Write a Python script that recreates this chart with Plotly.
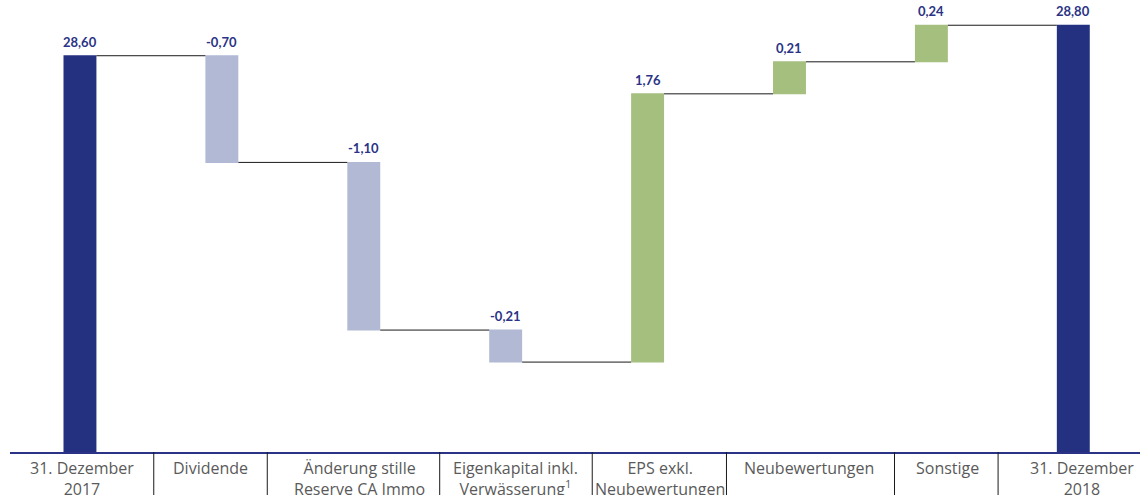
import plotly.graph_objects as go

categories = [
    "31. Dezember 2017",
    "Dividende",
    "Änderung stille Reserve CA Immo",
    "Eigenkapital inkl. Verwässerung",
    "EPS exkl. Neubewertungen",
    "Neubewertungen",
    "Sonstige",
    "31. Dezember 2018",
]
tick_labels = [
    "31. Dezember<br>2017",
    "Dividende",
    "Änderung stille<br>Reserve CA Immo",
    "Eigenkapital inkl.<br>Verwässerung<sup>1</sup>",
    "EPS exkl.<br>Neubewertungen",
    "Neubewertungen",
    "Sonstige",
    "31. Dezember<br>2018",
]
values = [28.60, -0.70, -1.10, -0.21, 1.76, 0.21, 0.24, 28.80]
measures = ["absolute", "relative", "relative", "relative", "relative", "relative", "relative", "total"]
separator_positions = [0.52, 1.32, 2.535, 3.61, 4.556, 5.74, 6.47]
label_positions = [0.014, 0.923, 1.97, 3.07, 4.09, 5.14, 6.11, 7.06]

# label positions derived from data (top of each bar)
tops = []
level = 0.0
for v, m in zip(values, measures):
    if m == "absolute":
        level = v
        tops.append(v)
    elif m == "total":
        tops.append(level)
    else:
        start = level
        level = level + v
        tops.append(max(start, level))
labels = [f"{v:.2f}".replace(".", ",") for v in values]

NAVY = "#233180"
fig = go.Figure()
fig.add_trace(go.Waterfall(
    x=categories,
    y=values,
    measure=measures,
    base=0,
    totals=dict(marker=dict(color=NAVY)),
    decreasing=dict(marker=dict(color="#b1b9d4")),
    increasing=dict(marker=dict(color="#a5bf7e")),
    connector=dict(line=dict(color="#1a1a1a", width=1), mode="between"),
    textinfo="none",
    hoverinfo="skip",
))

annotations = []
for c, t, lab in zip(categories, tops, labels):
    annotations.append(dict(
        x=c, y=t, xref="x", yref="y", text=lab, showarrow=False,
        yanchor="bottom", xanchor="center", yshift=4,
        font=dict(family="Lato", size=13, color="#2a3385", weight="bold"),
    ))
for p, lab in zip(label_positions, tick_labels):
    annotations.append(dict(
        x=p, y=0, xref="x", yref="paper", text=lab, showarrow=False,
        yanchor="top", xanchor="center", yshift=-3,
        font=dict(family="Open Sans", size=16, color="#5a5a5a"),
    ))

shapes = []
for s in separator_positions:
    shapes.append(dict(type="line", xref="x", yref="paper", x0=s, x1=s, y0=0, y1=-0.12,
                       line=dict(color="#1a1a1a", width=1)))

fig.update_layout(
    width=1140, height=495,
    margin=dict(l=10, r=0, t=10, b=43),
    paper_bgcolor="white", plot_bgcolor="white",
    showlegend=False,
    waterfallgap=0.768,
    separators=",.",
    shapes=shapes,
    annotations=annotations,
    xaxis=dict(
        range=[-0.493, 7.47],
        showline=True, linecolor="#2a3385", linewidth=2,
        showgrid=False, ticks="", showticklabels=False,
        fixedrange=True,
    ),
    yaxis=dict(
        range=[26.0, 28.9],
        visible=False, showgrid=False, zeroline=False,
        fixedrange=True,
    ),
)
fig.write_html("out.html", config={"displayModeBar": False},
               post_script="document.body.style.margin='0';")
